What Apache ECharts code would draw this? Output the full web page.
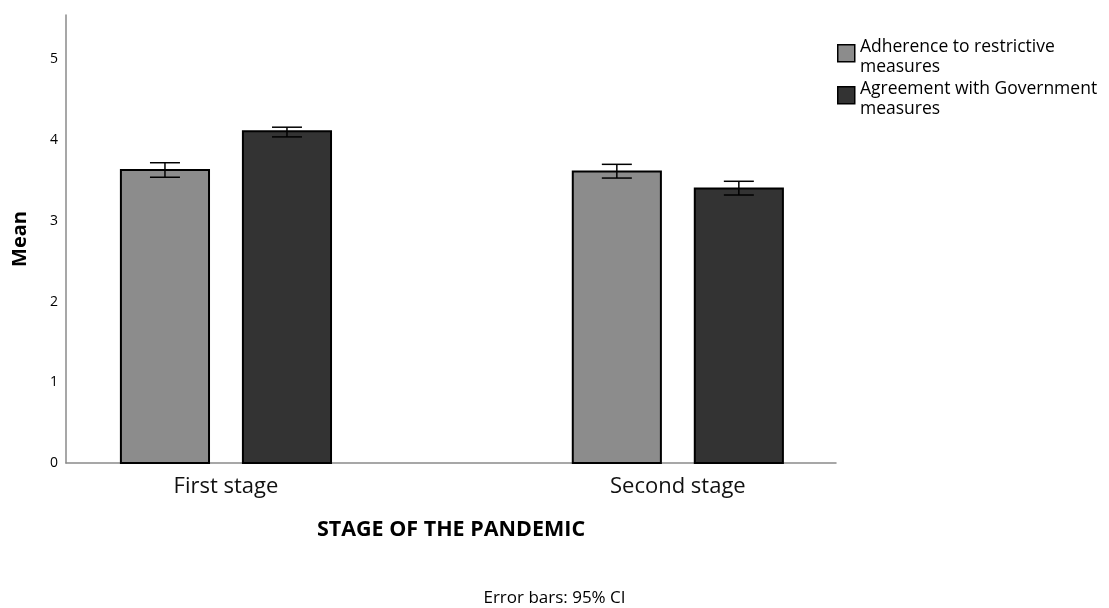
<!DOCTYPE html>
<html><head><meta charset="utf-8">
<script src="https://cdn.jsdelivr.net/npm/echarts@6/dist/echarts.min.js"></script>
<style>html,body{margin:0;padding:0;background:#fff}#c{width:1109px;height:608px}</style>
</head><body><div id="c"></div>
<script>
const categories = ['First stage', 'Second stage'];
const seriesNames = ['Adherence to restrictive\nmeasures', 'Agreement with Government\nmeasures'];
const adherenceMean = [3.63, 3.61];
const adherenceLow = [3.54, 3.53];
const adherenceHigh = [3.72, 3.70];
const agreementMean = [4.11, 3.40];
const agreementLow = [4.04, 3.32];
const agreementHigh = [4.16, 3.49];
const yTicks = [0, 1, 2, 3, 4, 5];

const colors = ['#8c8c8c', '#333333'];
const offsets = [-0.135, 0.135];

function makeSeries(idx, means, lows, highs) {
  return {
    name: seriesNames[idx],
    type: 'custom',
    itemStyle: { color: colors[idx], borderColor: '#000', borderWidth: 2 },
    data: categories.map((c, i) => [i, means[i], lows[i], highs[i]]),
    encode: { x: 0, y: 1 },
    renderItem: function (params, api) {
      const xi = api.value(0);
      const unit = api.size([1, 0])[0];
      const base = api.coord([xi, 0]);
      const top = api.coord([xi, api.value(1)]);
      const lo = api.coord([xi, api.value(2)]);
      const hi = api.coord([xi, api.value(3)]);
      const cx = base[0] + offsets[idx] * unit;
      const bw = unit * 0.195;
      const cap = 15;
      return {
        type: 'group',
        children: [
          { type: 'rect', shape: { x: cx - bw / 2, y: top[1], width: bw, height: base[1] - top[1] },
            style: { fill: colors[idx], stroke: '#000', lineWidth: 2 } },
          { type: 'line', shape: { x1: cx, y1: lo[1], x2: cx, y2: hi[1] }, style: { stroke: '#000', lineWidth: 1.5 } },
          { type: 'line', shape: { x1: cx - cap, y1: hi[1], x2: cx + cap, y2: hi[1] }, style: { stroke: '#000', lineWidth: 1.5 } },
          { type: 'line', shape: { x1: cx - cap, y1: lo[1], x2: cx + cap, y2: lo[1] }, style: { stroke: '#000', lineWidth: 1.5 } }
        ]
      };
    }
  };
}

const legendGraphics = [];
seriesNames.forEach((n, i) => {
  const y0 = 44 + i * 42;
  legendGraphics.push({
    type: 'rect', left: 837, top: y0,
    shape: { width: 17, height: 17 },
    style: { fill: colors[i], stroke: '#000', lineWidth: 1.5 }
  });
  legendGraphics.push({
    type: 'text', left: 860, top: y0 - 7,
    style: { text: n, fontFamily: 'Open Sans', fontSize: 17.5, lineHeight: 20, fill: '#000' }
  });
});

const chart = echarts.init(document.getElementById('c'));
chart.setOption({
  animation: false,
  backgroundColor: '#fff',
  grid: { left: 66, right: 273, top: 15, bottom: 145 },
  xAxis: {
    type: 'value', min: -0.354, max: 1.35,
    splitLine: { show: false },
    axisLine: { show: true, onZero: false, lineStyle: { color: '#8a8a8a', width: 1.5 } },
    axisTick: { show: false },
    axisLabel: {
      customValues: [0, 1],
      formatter: v => categories[Math.round(v)],
      fontFamily: 'Open Sans', fontSize: 22, color: '#111', margin: 13
    },
    name: 'STAGE OF THE PANDEMIC', nameLocation: 'middle', nameGap: 56,
    nameTextStyle: { fontFamily: 'Open Sans', fontWeight: 'bold', fontSize: 21.5, color: '#000' }
  },
  yAxis: {
    type: 'value', min: 0, max: 5.55,
    splitLine: { show: false },
    axisLine: { show: true, onZero: false, lineStyle: { color: '#8a8a8a', width: 1.5 } },
    axisTick: { show: false },
    axisLabel: { customValues: yTicks, fontFamily: 'Open Sans', fontSize: 14, color: '#000', margin: 8 },
    name: 'Mean', nameLocation: 'middle', nameGap: 36, nameRotate: 90,
    nameTextStyle: { fontFamily: 'Open Sans', fontWeight: 'bold', fontSize: 20, color: '#000' }
  },
  graphic: legendGraphics.concat([{
    type: 'text', left: 'center', top: 590,
    style: { text: 'Error bars: 95% CI', fontFamily: 'Open Sans', fontSize: 17, fill: '#000' }
  }]),
  series: [
    makeSeries(0, adherenceMean, adherenceLow, adherenceHigh),
    makeSeries(1, agreementMean, agreementLow, agreementHigh)
  ]
});
</script></body></html>
